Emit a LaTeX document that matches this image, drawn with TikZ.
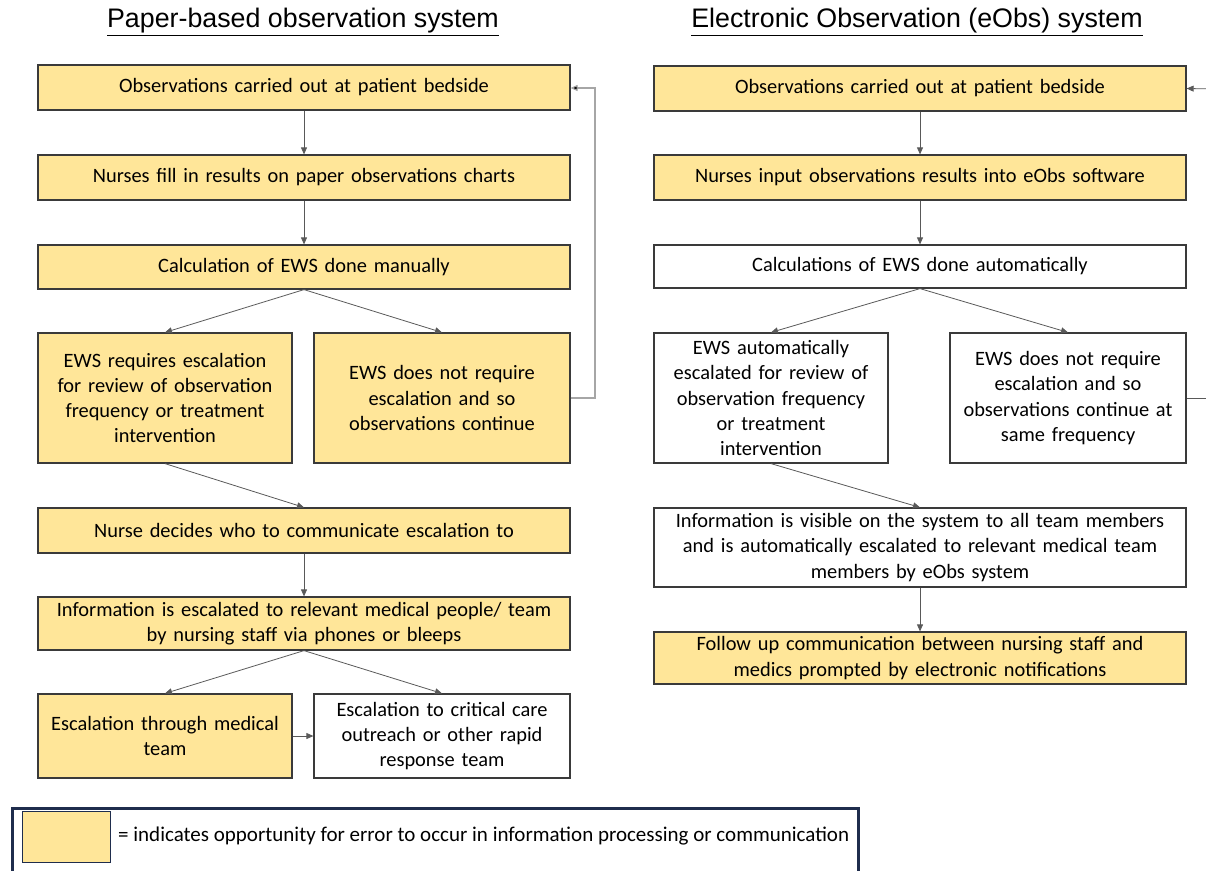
\documentclass[tikz,border=0pt]{standalone}
\usepackage{fontspec}
\setmainfont{Carlito}
\newfontfamily\titlefont{Liberation Sans}
\usetikzlibrary{arrows.meta}
\definecolor{boxyellow}{HTML}{FFE699}
\definecolor{boxedge}{HTML}{3A3A3A}
\definecolor{conn}{HTML}{595959}
\definecolor{fback}{HTML}{A6A6A6}
\definecolor{navy}{HTML}{1F2D4D}
\tikzset{
  flowbox/.style={draw=boxedge, line width=1.2pt, rectangle, align=center, inner sep=2pt,
    font=\fontsize{20.4}{25.3}\selectfont},
  ybox/.style={flowbox, fill=boxyellow},
  wbox/.style={flowbox, fill=white},
  arr/.style={draw=conn, line width=0.8pt, -{Triangle[length=7pt,width=6pt]}},
  farr/.style={draw=fback, line width=1.1pt, -{Triangle[length=7pt,width=6pt,fill=black]}},
  ttl/.style={font=\titlefont\fontsize{26.8}{30}\selectfont}
}
\newcommand{\bx}[7]{% style, name, x1, y1, x2, y2, text
  \node[#1, minimum width={(#5)-(#3)}, minimum height={(#6)-(#4)}, text width={(#5)-(#3)-6}]
    (#2) at ({((#3)+(#5))/2}, {-((#4)+(#6))/2}) {#7};}
\begin{document}
\begin{tikzpicture}[x=1pt,y=1pt]
\useasboundingbox (0,0) rectangle (1206,-870);
\clip (0,0) rectangle (1206,-870);
% titles
\node[ttl] (t1) at (303,-22) {\underline{Paper-based observation system}};
\node[ttl] (t2) at (917,-22) {\underline{Electronic Observation (eObs) system}};
% left column
\bx{ybox}{a1}{38}{65}{570}{110}{Observations carried out at patient bedside}
\bx{ybox}{a2}{38}{155}{570}{200}{Nurses fill in results on paper observations charts}
\bx{ybox}{a3}{38}{245}{570}{289}{Calculation of EWS done manually}
\bx{ybox}{a4}{38}{333}{292}{463}{EWS requires escalation\\for review of observation\\frequency or treatment\\intervention}
\bx{ybox}{a5}{314}{333}{570}{463}{EWS does not require\\escalation and so\\observations continue}
\bx{ybox}{a6}{38}{508}{570}{553}{Nurse decides who to communicate escalation to}
\bx{ybox}{a7}{38}{597}{570}{650}{Information is escalated to relevant medical people/ team\\by nursing staff via phones or bleeps}
\bx{ybox}{a8}{38}{694}{292}{778}{Escalation through medical\\team}
\bx{wbox}{a9}{314}{694}{570}{778}{Escalation to critical care\\outreach or other rapid\\response team}
% right column
\bx{ybox}{b1}{654}{66}{1186}{111}{Observations carried out at patient bedside}
\bx{ybox}{b2}{654}{155}{1186}{200}{Nurses input observations results into eObs software}
\bx{wbox}{b3}{654}{245}{1186}{288}{Calculations of EWS done automatically}
\bx{wbox}{b4}{654}{333}{888}{463}{EWS automatically\\escalated for review of\\observation frequency\\or treatment\\intervention}
\bx{wbox}{b5}{950}{333}{1186}{463}{EWS does not require\\escalation and so\\observations continue at\\same frequency}
\bx{wbox}{b6}{654}{508}{1186}{587}{Information is visible on the system to all team members\\and is automatically escalated to relevant medical team\\members by eObs system}
\bx{ybox}{b7}{654}{632}{1186}{684}{Follow up communication between nursing staff and\\medics prompted by electronic notifications}
% left connectors
\draw[arr] (a1.south) -- (a2.north);
\draw[arr] (a2.south) -- (a3.north);
\draw[arr] (a3.south) -- (a4.north);
\draw[arr] (a3.south) -- (a5.north);
\draw[arr] (a4.south) -- (a6.north);
\draw[arr] (a6.south) -- (a7.north);
\draw[arr] (a7.south) -- (a8.north);
\draw[arr] (a7.south) -- (a9.north);
\draw[arr] (a8.east) -- (a9.west);
\draw[farr] (a5.east) -| (595,-88) -- (a1.east |- 0,-88);
% right connectors
\draw[arr] (b1.south) -- (b2.north);
\draw[arr] (b2.south) -- (b3.north);
\draw[arr] (b3.south) -- (b4.north);
\draw[arr] (b3.south) -- (b5.north);
\draw[arr] (b4.south) -- (b6.north);
\draw[arr] (b6.south) -- (b7.north);
\coordinate (rc) at (1216,-398);
\draw[conn, line width=0.8pt] (b5.east) -- (rc);
\draw[arr] (1216,-89) -- (b1.east);
% legend
\draw[navy, line width=3pt] (12,-808) rectangle (858,-885);
\node[draw=navy, line width=1pt, fill=boxyellow, minimum width=88, minimum height=51, inner sep=0pt] (lg) at (66,-836.5) {};
\node[anchor=west, font=\fontsize{21}{24}\selectfont, inner sep=0pt] (lgt) at (118,-836) {= indicates opportunity for error to occur in information processing or communication};
\end{tikzpicture}
\end{document}
